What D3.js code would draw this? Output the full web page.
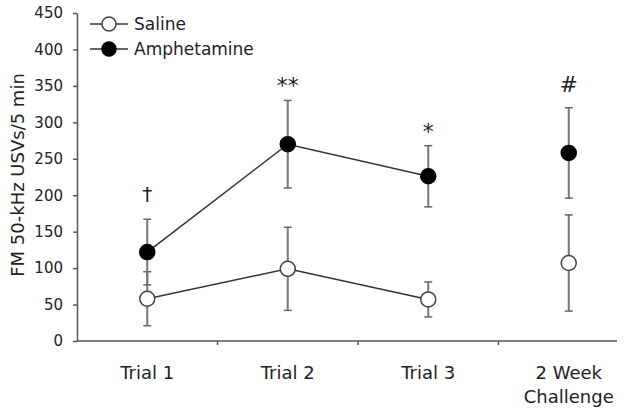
<!DOCTYPE html>
<html>
<head>
<meta charset="utf-8">
<script src="https://cdn.jsdelivr.net/npm/d3@7"></script>
<style>
body { margin: 0; background: #fff; }
text { font-family: "DejaVu Sans", Verdana, sans-serif; fill: #222; }
</style>
</head>
<body>
<script>
// data
var categories = ["Trial 1", "Trial 2", "Trial 3", "2 Week Challenge"];
var salineMean = [58, 99, 57, 107];
var salineErr = [37, 57, 24, 66];
var amphMean = [122, 270, 226, 258];
var amphErr = [45, 60, 42, 62];
var marks = ["\u2020", "**", "*", "#"];
var markAt = [205, 352, 290, 354];
var yTicks = [0, 50, 100, 150, 200, 250, 300, 350, 400, 450];

var width = 627, height = 415;
var plotLeft = 77, plotTop = 13, plotBottom = 341;

var svg = d3.select("body").append("svg")
    .attr("width", width)
    .attr("height", height);

var x = d3.scaleBand()
    .domain(categories)
    .range([plotLeft, plotLeft + 562]);

var y = d3.scaleLinear()
    .domain([0, 450])
    .range([plotBottom, plotTop]);

var cx = function(i){ return x(categories[i]) + x.bandwidth() / 2; };

// y axis
var yAxis = svg.append("g")
    .attr("transform", "translate(" + plotLeft + ",0)")
    .call(d3.axisLeft(y).tickValues(yTicks).tickSize(4).tickSizeOuter(0));
yAxis.select(".domain").attr("stroke", "#555").attr("stroke-width", 1.5);
yAxis.selectAll(".tick line").attr("stroke", "#555").attr("stroke-width", 1.5);
yAxis.selectAll("text")
    .style("font-size", "15px")
    .style("font-family", "DejaVu Sans, sans-serif")
    .attr("fill", "#333")
    .attr("x", -14);

// x axis line and tick marks between categories
svg.append("line")
    .attr("x1", plotLeft).attr("x2", 617)
    .attr("y1", plotBottom).attr("y2", plotBottom)
    .attr("stroke", "#555").attr("stroke-width", 1.5);
svg.selectAll(".xtick")
    .data(categories.slice(1))
    .enter().append("line")
    .attr("class", "xtick")
    .attr("x1", function(d){ return x(d); })
    .attr("x2", function(d){ return x(d); })
    .attr("y1", plotBottom).attr("y2", plotBottom + 4)
    .attr("stroke", "#555").attr("stroke-width", 1.5);

// x labels
categories.forEach(function(c, i){
    var words = c === "2 Week Challenge" ? ["2 Week", "Challenge"] : [c];
    words.forEach(function(w, j){
        svg.append("text")
            .attr("x", cx(i))
            .attr("y", 379 + j * 24)
            .attr("text-anchor", "middle")
            .style("font-size", "18px")
            .text(w);
    });
});

// y label
svg.append("text")
    .attr("transform", "translate(24,175) rotate(-90)")
    .attr("text-anchor", "middle")
    .style("font-size", "18px")
    .text("FM 50-kHz USVs/5 min");

function drawSeries(mean, err, fill, lineTo){
    var line = d3.line()
        .x(function(d, i){ return cx(i); })
        .y(function(d){ return y(d); });
    svg.append("path")
        .datum(mean.slice(0, lineTo))
        .attr("d", line)
        .attr("fill", "none")
        .attr("stroke", "#333")
        .attr("stroke-width", 1.5);
    var g = svg.append("g");
    mean.forEach(function(m, i){
        var xi = cx(i);
        g.append("line")
            .attr("x1", xi).attr("x2", xi)
            .attr("y1", y(m - err[i])).attr("y2", y(m + err[i]))
            .attr("stroke", "#777").attr("stroke-width", 2);
        [m - err[i], m + err[i]].forEach(function(v){
            g.append("line")
                .attr("x1", xi - 4).attr("x2", xi + 4)
                .attr("y1", y(v)).attr("y2", y(v))
                .attr("stroke", "#666").attr("stroke-width", 1.5);
        });
    });
    svg.selectAll(null)
        .data(mean)
        .enter().append("circle")
        .attr("cx", function(d, i){ return cx(i); })
        .attr("cy", function(d){ return y(d); })
        .attr("r", 7.5)
        .attr("fill", fill)
        .attr("stroke", fill === "#fff" ? "#444" : "#000")
        .attr("stroke-width", 1.5);
}

drawSeries(salineMean, salineErr, "#fff", 3);
drawSeries(amphMean, amphErr, "#000", 3);

// significance marks
marks.forEach(function(m, i){
    svg.append("text")
        .attr("x", cx(i))
        .attr("y", y(markAt[i]) + 9)
        .attr("text-anchor", "middle")
        .style("font-size", m === "\u2020" ? "20px" : "22px")
        .text(m);
});

// legend
var legend = [["Saline", "#fff", "#444"], ["Amphetamine", "#000", "#000"]];
legend.forEach(function(d, i){
    var ly = 24 + i * 25;
    svg.append("line")
        .attr("x1", 90).attr("x2", 128)
        .attr("y1", ly).attr("y2", ly)
        .attr("stroke", "#333").attr("stroke-width", 1.5);
    svg.append("circle")
        .attr("cx", 109).attr("cy", ly).attr("r", 7)
        .attr("fill", d[1]).attr("stroke", d[2]).attr("stroke-width", 1.5);
    svg.append("text")
        .attr("x", 134).attr("y", ly + 6)
        .style("font-size", "17px")
        .text(d[0]);
});
</script>
</body>
</html>
